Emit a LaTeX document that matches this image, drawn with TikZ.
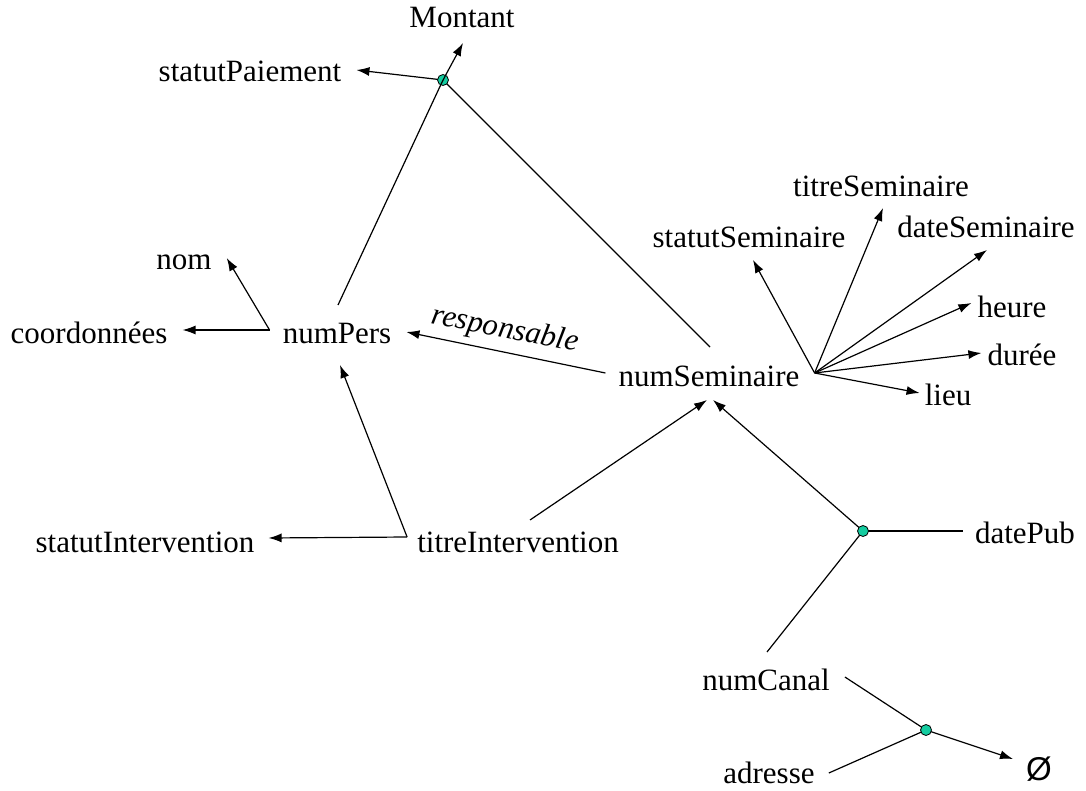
\documentclass[tikz,border=0pt]{standalone}
\usepackage{fontspec}
\setmainfont{Liberation Serif}
\newfontfamily\symfont{Liberation Sans}
\usetikzlibrary{arrows.meta,calc}
\pgfdeclarelayer{bg}
\pgfsetlayers{bg,main}
\definecolor{dotteal}{RGB}{20,204,160}
\tikzset{
  lbl/.style={inner sep=0pt, font=\fontsize{31}{37}\selectfont, anchor=base},
  symlbl/.style={inner sep=0pt, font=\symfont\fontsize{33}{38}\selectfont, anchor=base},
  dot/.style={circle, draw=black, line width=0.8pt, fill=dotteal, minimum size=11pt, inner sep=0pt},
  conn/.style={line width=1.2pt},
  arr/.style={conn, -{Latex[length=13pt,width=9pt]}}
}
\begin{document}
\begin{tikzpicture}[x=1pt,y=-1pt]
\useasboundingbox (0,0) rectangle (1086,791);
% labels
\node[lbl] (mont) at (462,28) {Montant};
\node[lbl] (spai) at (250,82) {statutPaiement};
\node[dot] (c1) at (443,80) {};
\node[lbl] (nom) at (184,270) {nom};
\node[lbl] (coord) at (89,343) {coordonnées};
\node[lbl] (np) at (337,343) {numPers};
\node[lbl] (ns) at (709,386) {numSeminaire};
\node[lbl] (ssem) at (749,248) {statutSeminaire};
\node[lbl] (tsem) at (881,197) {titreSeminaire};
\node[lbl] (dsem) at (986,238) {dateSeminaire};
\node[lbl] (heure) at (1012,317) {heure};
\node[lbl] (duree) at (1022,365) {durée};
\node[lbl] (lieu) at (948,405) {lieu};
\node[lbl] (sint) at (145,552) {statutIntervention};
\node[lbl] (tint) at (518,552) {titreIntervention};
\node[dot] (c2) at (863,531) {};
\node[lbl] (dpub) at (1025,543) {datePub};
\node[lbl] (ncan) at (766,690) {numCanal};
\node[dot] (c3) at (926,730) {};
\node[lbl] (adr) at (769,783) {adresse};
\node[symlbl] (vide) at (1039,780) {Ø};
\node[lbl, font=\itshape\fontsize{31}{37}\selectfont, anchor=center, rotate=-11] (resp) at (505,330) {responsable};
% connectors
\begin{pgfonlayer}{bg}
\draw[arr] (c1.center) -- ($(spai.base east)+(15,-12)$);
\draw[arr] (c1.center) -- ($(mont.base)+(1,15)$);
\draw[conn] ($(np.base)+(1,-38)$) -- (c1.center);
\draw[conn] ($(ns.base)+(1,-39)$) -- (c1.center);
\draw[arr] ($(np.base west)+(-13,-13)$) -- ($(nom.base east)+(15,-12)$);
\draw[arr] ($(np.base west)+(-13,-13)$) -- ($(coord.base east)+(15,-13)$);
\draw[arr] ($(ns.base west)+(-13,-13)$) -- ($(np.base east)+(15,-11)$);
\draw[arr] ($(ns.base east)+(15,-13)$) -- ($(ssem.base)+(4,12)$);
\draw[arr] ($(ns.base east)+(15,-13)$) -- ($(tsem.base)+(2,11)$);
\draw[arr] ($(ns.base east)+(15,-13)$) -- ($(dsem.base)+(1,12)$);
\draw[arr] ($(ns.base east)+(15,-13)$) -- ($(heure.base west)+(-6,-14)$);
\draw[arr] ($(ns.base east)+(15,-13)$) -- ($(duree.base west)+(-6,-12)$);
\draw[arr] ($(ns.base east)+(15,-13)$) -- ($(lieu.base west)+(-5,-12)$);
\draw[arr] (c2.center) -- ($(ns.base)+(4,14)$);
\draw[arr] ($(tint.base)+(12,-32)$) -- ($(ns.base)+(-2,14)$);
\draw[arr] ($(tint.base west)+(-10,-15)$) -- ($(np.base)+(3,22)$);
\draw[arr] ($(tint.base west)+(-10,-15)$) -- ($(sint.base east)+(14,-14)$);
\draw[conn] (c2.center) -- ($(dpub.base west)+(-12,-12)$);
\draw[conn] ($(ncan.base)+(1,-38)$) -- (c2.center);
\draw[conn] ($(ncan.base east)+(15,-13)$) -- (c3.center);
\draw[conn] ($(adr.base east)+(14,-10)$) -- (c3.center);
\draw[arr] (c3.center) -- ($(vide.base west)+(-13,-21)$);
\end{pgfonlayer}
\draw[conn] ($(c1.center)!5pt!($(np.base)+(1,-38)$)$) -- ($(c1.center)!5pt!($(mont.base)+(1,15)$)$);
\end{tikzpicture}
\end{document}
